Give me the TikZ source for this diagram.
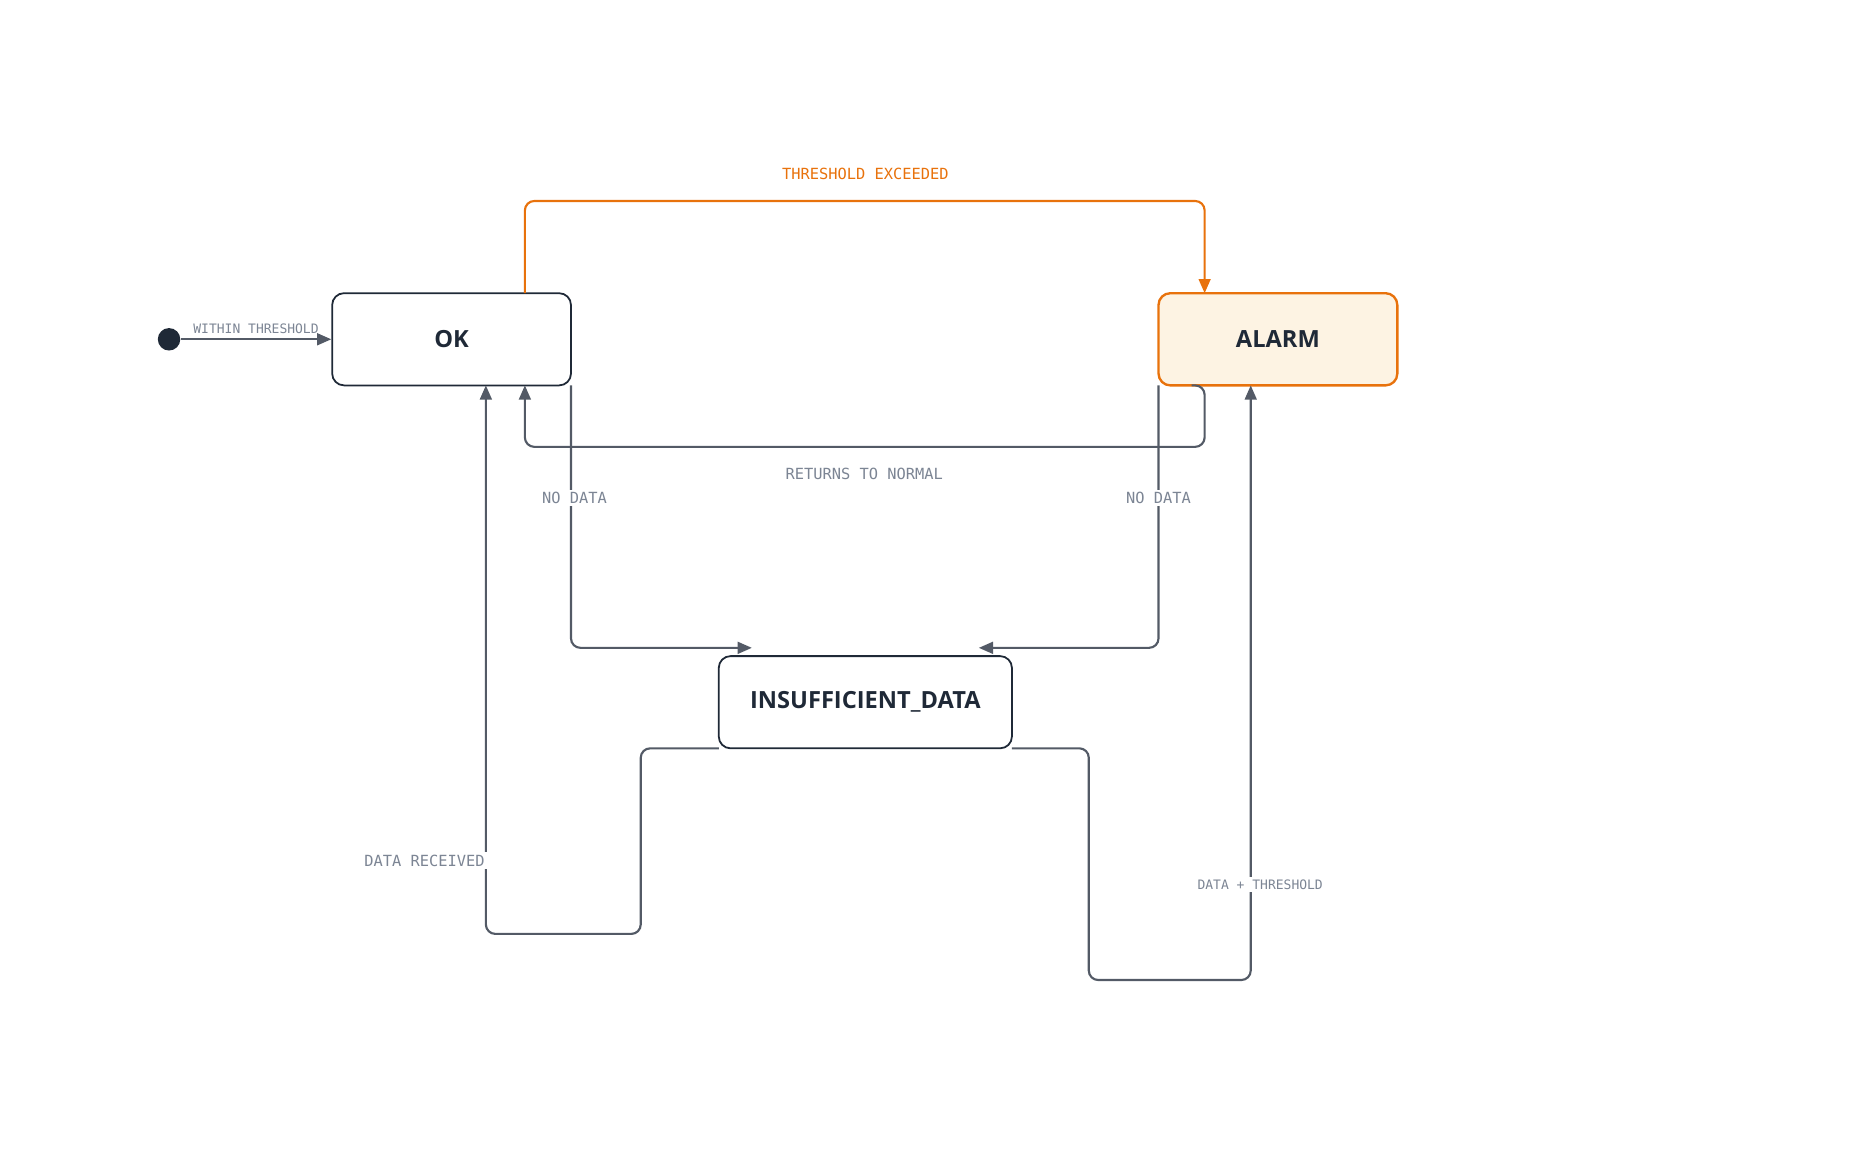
\documentclass[tikz,border=0pt]{standalone}
\usepackage{fontspec}
\setmainfont{Open Sans}
\newfontfamily\labfont{DejaVu Sans Mono}
\usetikzlibrary{arrows.meta}
\definecolor{ink}{HTML}{1F2937}
\definecolor{edge}{HTML}{535A66}
\definecolor{lab}{HTML}{7C8594}
\definecolor{orng}{HTML}{E8720C}
\definecolor{cream}{HTML}{FDF3E3}
\begin{document}
\begin{tikzpicture}[x=0.5pt,y=-0.5pt,
  state/.style={draw=ink,line width=0.75pt,rounded corners=5pt,minimum width=101pt,minimum height=39pt,inner sep=0pt,font=\bfseries\fontsize{10}{12}\selectfont,text=ink},
  conn/.style={draw=edge,line width=0.9pt,rounded corners=4pt,-{Triangle[length=6pt,width=5pt]}},
  lbl/.style={font=\labfont\fontsize{6.5}{8}\selectfont,text=lab,fill=white,inner sep=1pt}]
\useasboundingbox (0,0) rectangle (1570,981);
\node[state] (ok) at (382,287) {OK};
\node[state,draw=orng,fill=cream,line width=1pt] (alarm) at (1081,287) {ALARM};
\node[state,minimum width=124pt] (ins) at (732,594) {INSUFFICIENT\_DATA};
\node[circle,fill=ink,minimum size=9.5pt,inner sep=0pt] (init) at (143,287) {};
\draw[conn] (init) -- (ok) node[lbl,midway,above=1pt,fill=none,font=\labfont\fontsize{5.5}{7}\selectfont] {WITHIN THRESHOLD};
% threshold exceeded
\coordinate (a1) at (444,248);
\coordinate (a2) at (1019,248);
\draw[conn,draw=orng,-{Triangle[length=6pt,width=5pt]}] (a1) -- (444,170) -- (1019,170) -- (a2);
\node[lbl,text=orng,fill=none] (te) at (732,147) {THRESHOLD EXCEEDED};
% returns to normal
\coordinate (b1) at (1008,326);
\coordinate (b2) at (444,326);
\draw[conn] (b1) -- (1019,326) -- (1019,378) -- (444,378) -- (b2);
\node[lbl] (rn) at (731,401) {RETURNS TO NORMAL};
% no data left
\coordinate (c1) at (483,326);
\coordinate (c2) at (636,548);
\draw[conn] (c1) -- (483,548) -- (c2);
\node[lbl] (nd1) at (486,421) {NO DATA};
% no data right
\coordinate (d1) at (980,326);
\coordinate (d2) at (828,548);
\draw[conn] (d1) -- (980,548) -- (d2);
\node[lbl] (nd2) at (980,421) {NO DATA};
% data received
\coordinate (e1) at (608,633);
\coordinate (e2) at (411,326);
\draw[conn] (e1) -- (542,633) -- (542,790) -- (411,790) -- (e2);
\node[lbl] (dr) at (359,728) {DATA RECEIVED};
% data + threshold
\coordinate (f1) at (856,633);
\coordinate (f2) at (1058,326);
\draw[conn] (f1) -- (921,633) -- (921,829) -- (1058,829) -- (f2);
\node[lbl,font=\labfont\fontsize{5.5}{7}\selectfont] (dt) at (1066,748) {DATA + THRESHOLD};
\end{tikzpicture}
\end{document}
